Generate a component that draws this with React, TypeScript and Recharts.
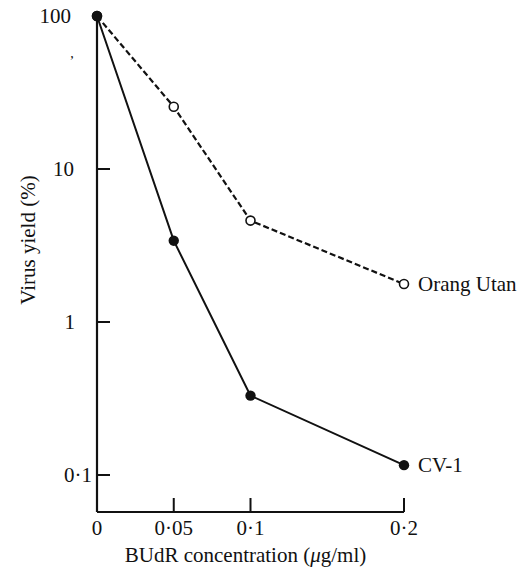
import React from 'react';
import { LineChart, Line, XAxis, YAxis } from 'recharts';

const concentrations = [0, 0.05, 0.1, 0.2];
const cv1Yield = [100, 3.4, 0.33, 0.116];
const orangUtanYield = [100, 25.5, 4.6, 1.77];

const xTicks = [0, 0.05, 0.1, 0.2];
const xTickLabels = ['0', '0·05', '0·1', '0·2'];
const yTicks = [100, 10, 1, 0.1];
const yTickLabels = ['100', '10', '1', '0·1'];

const seriesNames = { cv1: 'CV-1', orang: 'Orang Utan' };
const xTitle = 'BUdR concentration (';
const xTitleMu = 'μ';
const xTitleEnd = 'g/ml)';
const yTitle = 'Virus yield (%)';
const strayMark = ',';

const data = concentrations.map((c, i) => ({
  x: c,
  cv1: cv1Yield[i],
  orang: orangUtanYield[i],
}));

const FONT = "'Liberation Serif', 'Times New Roman', serif";
const INK = '#111';
const FS = 21;

const yLabelDx: Record<string, number> = { '100': -26, '10': -23, '1': -22, '0·1': -5 };

const XTick = (props: any) => {
  const { x, y, payload } = props;
  const idx = xTicks.indexOf(payload.value);
  const label = xTickLabels[idx] ?? String(payload.value);
  return (
    <g>
      {payload.value !== 0 && (
        <line x1={x} x2={x} y1={y} y2={y - 14} stroke={INK} strokeWidth={2} />
      )}
      <text x={x} y={y + 23} textAnchor="middle" fontFamily={FONT} fontSize={FS} fill={INK}>
        {label}
      </text>
    </g>
  );
};

const YTick = (props: any) => {
  const { x, y, payload } = props;
  const idx = yTicks.indexOf(payload.value);
  const label = yTickLabels[idx] ?? String(payload.value);
  return (
    <g>
      {payload.value !== 100 && (
        <line x1={x} x2={x + 13} y1={y} y2={y} stroke={INK} strokeWidth={2} />
      )}
      <text x={x + (yLabelDx[label] ?? -10)} y={y} dy="0.35em" textAnchor="end" fontFamily={FONT} fontSize={FS} fill={INK}>
        {label}
      </text>
    </g>
  );
};

const OpenDot = (props: any) => {
  const { cx, cy } = props;
  return <circle cx={cx} cy={cy} r={4.5} fill="#fff" stroke={INK} strokeWidth={1.6} />;
};
const FilledDot = (props: any) => {
  const { cx, cy } = props;
  return <circle cx={cx} cy={cy} r={5.2} fill={INK} stroke="none" />;
};

const endLabel = (name: string) => (props: any) => {
  const { x, y, index } = props;
  if (index !== concentrations.length - 1) return null;
  return (
    <text x={x + 14} y={y} dy="0.35em" fontFamily={FONT} fontSize={FS} fill={INK}>
      {name}
    </text>
  );
};

const XTitle = (props: any) => {
  const vb = props.viewBox || {};
  const cx = vb.x + vb.width / 2 - 5;
  return (
    <text x={cx} y={562} textAnchor="middle" fontFamily={FONT} fontSize={FS} fill={INK}>
      {xTitle}
      <tspan fontStyle="italic">{xTitleMu}</tspan>
      {xTitleEnd}
    </text>
  );
};

const YTitle = () => {
  const cx = 28;
  const cy = 240;
  return (
    <g>
      <text x={cx} y={cy} transform={`rotate(-90 ${cx} ${cy})`} dy="0.35em" textAnchor="middle" fontFamily={FONT} fontSize={FS} fill={INK}>
        {yTitle}
      </text>
      <text x={72} y={58} textAnchor="middle" fontFamily={FONT} fontSize={14} fill={INK}>
        {strayMark}
      </text>
    </g>
  );
};

export default function App() {
  return (
    <div style={{ position: 'absolute', left: 0, top: 0, width: 525, height: 567, background: '#fff' }}>
      <LineChart width={525} height={567} data={data} margin={{ top: 16, right: 121, bottom: 0, left: 0 }}>
        <XAxis
          dataKey="x"
          type="number"
          domain={[0, 0.2]}
          ticks={xTicks}
          interval={0}
          height={55}
          tickSize={0}
          tickMargin={0}
          tickLine={false}
          axisLine={{ stroke: INK, strokeWidth: 2.2 }}
          tick={<XTick />}
          label={<XTitle />}
        />
        <YAxis
          type="number"
          scale="log"
          domain={[0.0573, 100]}
          ticks={yTicks}
          interval={0}
          width={97}
          tickSize={0}
          tickMargin={0}
          tickLine={false}
          axisLine={{ stroke: INK, strokeWidth: 2.2 }}
          tick={<YTick />}
          label={<YTitle />}
        />
        <Line
          dataKey="orang"
          stroke={INK}
          strokeWidth={2.2}
          strokeDasharray="6 3"
          dot={<OpenDot />}
          activeDot={false}
          isAnimationActive={false}
          label={endLabel(seriesNames.orang)}
        />
        <Line
          dataKey="cv1"
          stroke={INK}
          strokeWidth={2}
          dot={<FilledDot />}
          activeDot={false}
          isAnimationActive={false}
          label={endLabel(seriesNames.cv1)}
        />
      </LineChart>
    </div>
  );
}
